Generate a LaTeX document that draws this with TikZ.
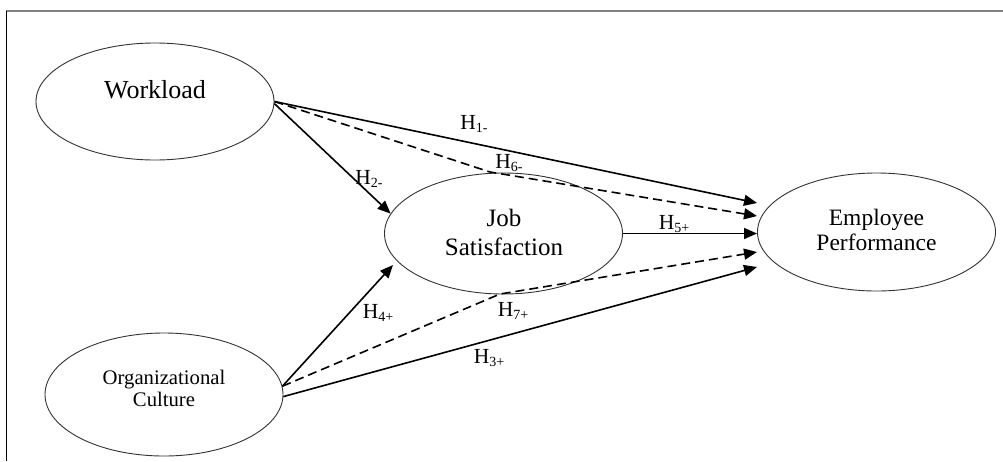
\documentclass[tikz,border=0pt]{standalone}
\usepackage{fontspec}
\setmainfont{Liberation Serif}
\usetikzlibrary{arrows.meta,shapes.geometric}
\newcommand\hyp[1]{H\raisebox{-2.5pt}{\fontsize{14}{15}\selectfont #1}}
\tikzset{
  oval/.style={ellipse, draw=black!80, line width=0.9pt, minimum width=238pt, inner sep=0pt},
  conn/.style={line width=1.6pt, -{Triangle[length=13pt,width=11pt]}},
  dconn/.style={conn, dash pattern=on 9pt off 5pt},
  hlabel/.style={font=\fontsize{21.5}{23}\selectfont, inner sep=0pt},
  frameline/.style={line width=#1}
}
\begin{document}
\begin{tikzpicture}[x=1pt,y=-1pt]
\useasboundingbox (0,0) rectangle (1003,461);
% frame
\coordinate (f0) at (6,11);
\coordinate (f1) at (1003,11);
\coordinate (f2) at (6,461);
\draw[frameline=2pt, black!50] (f0) -- (f1);
\draw[frameline=1pt, black] (f0) -- (f2);
% ellipses
\node[oval, minimum height=117pt] (wl) at (155,101.5) {};
\node[oval, minimum height=123pt] (oc) at (164,394.5) {};
\node[oval, minimum height=121pt] (js) at (503.5,233.5) {};
\node[oval, minimum height=118pt] (ep) at (876.5,232) {};
% texts
\node[font=\fontsize{26}{30}\selectfont] (wlt) at (155,90) {Workload};
\node[font=\fontsize{20.7}{22}\selectfont, align=center] (oct) at (164,388) {Organizational\\Culture};
\node[font=\fontsize{25}{29}\selectfont, align=center] (jst) at (504,232) {Job\\Satisfaction};
\node[font=\fontsize{23.5}{25.5}\selectfont, align=center] (ept) at (876.5,230) {Employee\\Performance};
% arrow end points
\coordinate (t1) at (757,203);
\coordinate (t6) at (757,216);
\coordinate (t5) at (757,233.5);
\coordinate (t7) at (757,252);
\coordinate (t3) at (757,267);
\coordinate (t4) at (393,265);
\coordinate (b6) at (490,172);
\coordinate (b7) at (500,294);
% connectors
\draw[conn] (wl.east) -- (t1);
\draw[dconn] (wl.east) -- (b6) -- (t6);
\draw[conn] (wl.-1) -- (js.170);
\draw[conn] (js.east) -- (t5);
\draw[conn] (oc.4) -- (t4);
\draw[dconn] (oc.4) -- (b7) -- (t7);
\draw[conn] (oc.-1) -- (t3);
% labels
\node[hlabel] (l1) at (474,124) {\hyp{1-}};
\node[hlabel] (l6) at (509,163) {\hyp{6-}};
\node[hlabel] (l2) at (369,179) {\hyp{2-}};
\node[hlabel] (l5) at (674,224) {\hyp{5+}};
\node[hlabel] (l4) at (378,313) {\hyp{4+}};
\node[hlabel] (l7) at (513,311) {\hyp{7+}};
\node[hlabel] (l3) at (489,358) {\hyp{3+}};
\end{tikzpicture}
\end{document}
